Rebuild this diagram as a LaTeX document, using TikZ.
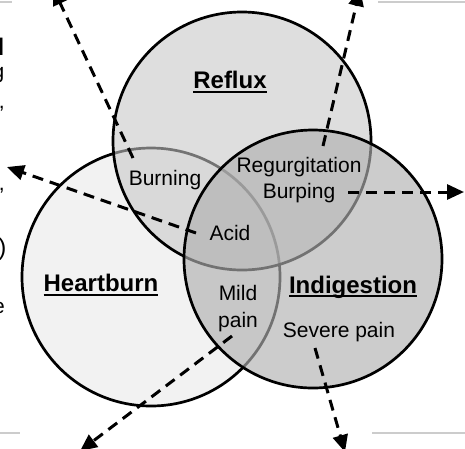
\documentclass[tikz,border=0pt]{standalone}
\usepackage{fontspec}
\setmainfont{Liberation Sans}
\usetikzlibrary{arrows.meta}
\definecolor{heartgray}{gray}{0.95}
\definecolor{refluxgray}{gray}{0.78}
\definecolor{indigray}{gray}{0.69}
\definecolor{rulegray}{gray}{0.8}
\newcommand{\vennhead}[1]{\setbox0\hbox{#1}\rlap{\rule[-3.6pt]{\wd0}{1.6pt}}\box0}
\tikzset{
  venn/.style={circle, draw=black, line width=2.7pt, minimum size=258pt, inner sep=0pt, outer sep=0pt},
  condition/.style={font=\fontsize{24}{28}\selectfont\bfseries, inner sep=0pt},
  symptom/.style={font=\fontsize{21}{24}\selectfont, align=center, inner sep=1pt},
  pointer/.style={line width=3pt, dash pattern=on 11pt off 7pt, -{Triangle[length=17pt,width=15pt]}},
  cutoff/.style={anchor=base east, inner sep=0pt},
}
\begin{document}
\begin{tikzpicture}[x=1pt,y=-1pt]
\useasboundingbox (0,0) rectangle (465,448);
% slide remains
\draw[rulegray, line width=1.5pt] (0,2) -- (12,2);
\draw[rulegray, line width=1.5pt] (378,2) -- (465,2);
\draw[rulegray, line width=1.5pt] (0,433) -- (20,433);
\draw[rulegray, line width=1.5pt] (372,433) -- (465,433);
\node[cutoff, font=\fontsize{24}{28}\selectfont\bfseries] (cut1) at (4.6,55) {l};
\node[cutoff, font=\fontsize{21}{24}\selectfont] (cut2) at (4.5,78) {g};
\node[cutoff, font=\fontsize{21}{24}\selectfont] (cut3) at (5,108) {,};
\node[cutoff, font=\fontsize{21}{24}\selectfont] (cut4) at (5,190) {,};
\node[cutoff, font=\fontsize{24}{28}\selectfont] (cut5) at (6.5,255) {)};
\node[cutoff, font=\fontsize{21}{24}\selectfont] (cut6) at (5,313) {e};
% circles
\node[venn, fill=heartgray] (heartburn) at (151,277) {};
\node[venn, fill=refluxgray, fill opacity=0.58] (reflux) at (242,141) {};
\node[venn, fill=indigray, fill opacity=0.65] (indigestion) at (313,259) {};
% labels
\node[condition] (refluxlbl) at (230,82) {\vennhead{Reflux}};
\node[condition] (heartlbl) at (101,285) {\vennhead{Heartburn}};
\node[condition] (indilbl) at (353,287) {\vennhead{Indigestion}};
\node[symptom] (burning) at (165,180) {Burning};
\node[symptom] (regurg) at (299,167) {Regurgitation};
\node[symptom] (burping) at (299,193) {Burping};
\node[symptom] (acid) at (230,233) {Acid};
\node[symptom] (mild) at (238,309) {Mild\\[3pt]pain};
\node[symptom] (severe) at (339,332) {Severe pain};
% arrows
\coordinate (burningtail) at (133,158);
\coordinate (burningtip) at (53,-12);
\coordinate (acidtail) at (196,233);
\coordinate (acidtip) at (7,167);
\coordinate (burpingtail) at (348,192);
\coordinate (burpingtip) at (464,192);
\coordinate (regurgtail) at (323,146);
\coordinate (regurgtip) at (360,-11);
\coordinate (mildtail) at (232,336);
\coordinate (mildtip) at (80,451);
\coordinate (severetail) at (315,348);
\coordinate (severetip) at (345,452);
\draw[pointer] (burningtail) -- (burningtip);
\draw[pointer] (acidtail) -- (acidtip);
\draw[pointer] (burpingtail) -- (burpingtip);
\draw[pointer] (regurgtail) -- (regurgtip);
\draw[pointer] (mildtail) -- (mildtip);
\draw[pointer] (severetail) -- (severetip);
\end{tikzpicture}
\end{document}
